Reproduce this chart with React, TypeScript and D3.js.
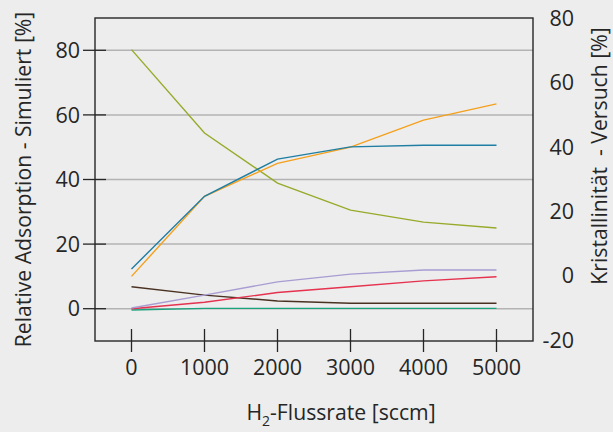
import React from 'react';
import * as d3 from 'd3';

const flowRates = [0, 1000, 2000, 3000, 4000, 5000];
const leftTicks = [0, 20, 40, 60, 80];
const rightTicks = [-20, 0, 20, 40, 60, 80];

// values
const olive = [80.2, 54.4, 38.9, 30.5, 26.8, 25.0];
const orange = [10.0, 34.8, 45.0, 50.0, 58.4, 63.4];
const teal = [12.3, 34.8, 46.3, 50.1, 50.6, 50.6];
const purple = [0.2, 4.2, 8.3, 10.7, 12.0, 12.0];
const red = [0.0, 2.0, 5.0, 6.8, 8.6, 9.9];
const brown = [6.8, 4.2, 2.4, 1.7, 1.7, 1.7];
const green = [-0.4, 0.1, 0.1, 0.1, 0.1, 0.1];

const series = [
    { values: green, color: '#1ba37d' },
    { values: brown, color: '#4a3222' },
    { values: red, color: '#e5324f' },
    { values: purple, color: '#a89cd2' },
    { values: olive, color: '#98aa2a' },
    { values: orange, color: '#f5a01c' },
    { values: teal, color: '#1f7ea3' },
];

const App = () => {
    const width = 613;
    const height = 432;
    const left = 95, right = 533, top = 18, bottom = 341;
    const font = '"Open Sans", sans-serif';
    const ink = '#262626';

    const x = d3.scaleLinear().domain([-500, 5500]).range([left, right]);
    const yLeft = d3.scaleLinear().domain([-10, 90]).range([bottom, top]);
    const yRight = d3.scaleLinear().domain([-20, 80]).range([bottom - 1, top]);

    const line = d3.line<number>()
        .x((d, i) => x(flowRates[i]))
        .y(d => yLeft(d));

    return (
        <svg width={width} height={height} style={{ position: 'fixed', top: 0, left: 0, background: '#ededed' }}>
            <rect x={0} y={0} width={width} height={height} fill="#ededed" />
            {leftTicks.map(t => (
                <g key={'g' + t}>
                    <line x1={left} x2={right} y1={yLeft(t)} y2={yLeft(t)} stroke="#b3b3b3" strokeWidth={1.5} />
                    <line x1={left - 12} x2={left + 11} y1={yLeft(t)} y2={yLeft(t)} stroke={ink} strokeWidth={1.3} />
                    <text x={80} y={yLeft(t)} dy="0.36em" textAnchor="end" fontFamily={font} fontSize={21.5} fill={ink}>{t}</text>
                </g>
            ))}
            {flowRates.map(t => (
                <g key={'x' + t}>
                    <line x1={x(t)} x2={x(t)} y1={bottom - 12} y2={bottom + 11} stroke={ink} strokeWidth={1.3} />
                    <text x={x(t)} y={375} textAnchor="middle" fontFamily={font} fontSize={21.5} fill={ink}>{t}</text>
                </g>
            ))}
            {rightTicks.map(t => (
                <text key={'r' + t} x={574} y={yRight(t)} dy="0.36em" textAnchor="end" fontFamily={font} fontSize={21.5} fill={ink}>{t}</text>
            ))}
            {series.map((s, i) => (
                <path key={i} d={line(s.values) || ''} fill="none" stroke={s.color} strokeWidth={1.4} />
            ))}
            <rect x={left} y={top} width={right - left} height={bottom - top} fill="none" stroke={ink} strokeWidth={1.4} />
            <text transform={`translate(31,${(top + bottom) / 2}) rotate(-90)`} textAnchor="middle" fontFamily={font} fontSize={21.2} fill={ink}>
                Relative Adsorption - Simuliert [%]
            </text>
            <text transform={`translate(607,156) rotate(-90)`} textAnchor="middle" fontFamily={font} fontSize={21.2} fill={ink} style={{ whiteSpace: 'pre' }}>
                Kristallinität  - Versuch [%]
            </text>
            <text x={341} y={420} textAnchor="middle" fontFamily={font} fontSize={21.2} fill={ink}>
                H<tspan fontSize={14} dy={6}>2</tspan><tspan dy={-6}>-Flussrate [sccm]</tspan>
            </text>
        </svg>
    );
};

export default App;
